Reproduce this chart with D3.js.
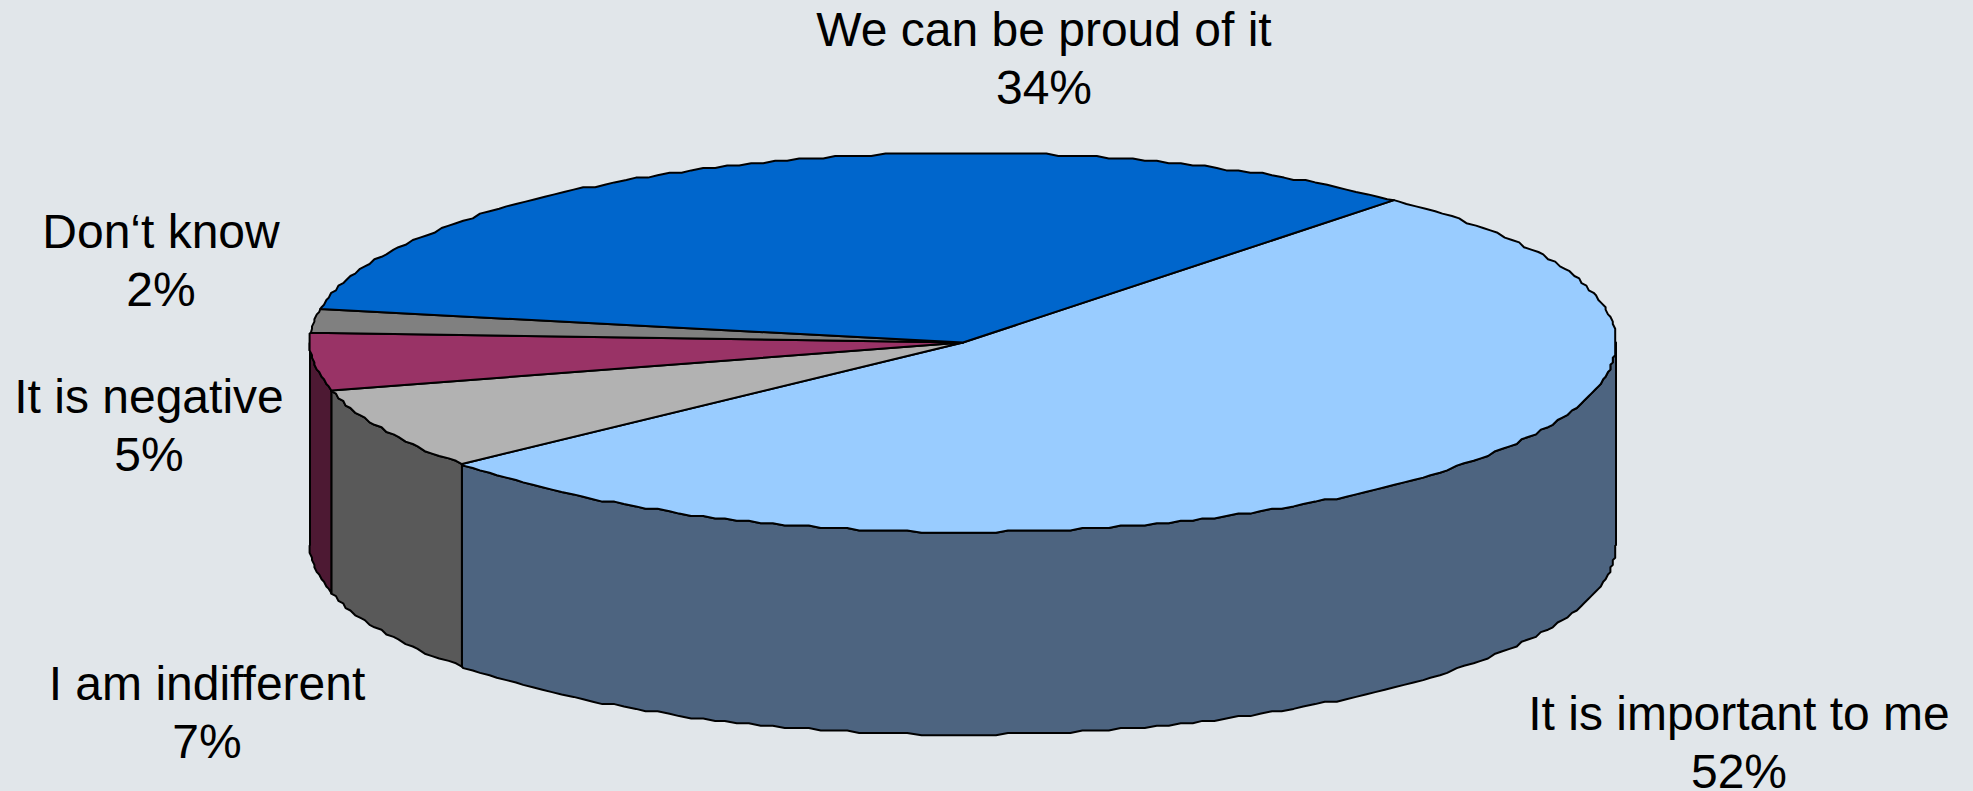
<!DOCTYPE html>
<html>
<head>
<meta charset="utf-8">
<script src="https://cdn.jsdelivr.net/npm/d3@7/dist/d3.min.js"></script>
<style>
html,body{margin:0;padding:0;background:#e1e6ea;overflow:hidden}
svg{display:block}
text{font-family:"Liberation Sans",Arial,sans-serif;fill:#000;text-anchor:middle}
</style>
</head>
<body>
<svg id="chart" width="1973" height="791"></svg>
<script>
const categories = ["It is important to me","I am indifferent","It is negative","Don\u2018t know","We can be proud of it"];
const shares = [52.45,7,4.9,2,33.65];
const topColors = ["#99ccff","#b2b2b2","#993366","#808080","#0066cc"];
const sideColors = ["#4d6480","#595959","#4d1933","#404040","#003366"];
const labelX = [1739,207,149,161,1044];
const labelY = [730,700,413,248,46];

const W=1973,H=791,cx=963,cy=342.5,rx=653,ry=189.5,depth=202.5;
const GRID=2.4;
const svg=d3.select("#chart");
const toRad=d=>d*Math.PI/180;
const START=41.3;
const slices=d3.pie().sort(null).startAngle(toRad(START)).endAngle(toRad(START+360)).value(d=>d)(shares);
const sx=d3.scaleLinear().domain([-1,1]).range([cx-rx,cx+rx]);
const sy=d3.scaleLinear().domain([-1,1]).range([cy-ry,cy+ry]);
const q=v=>Math.round(v/GRID)*GRID;
const rim=(a,dy=0)=>[q(sx(Math.sin(a))),q(sy(-Math.cos(a)))+dy];
const exact=(a,dy=0)=>[sx(Math.sin(a)),sy(-Math.cos(a))+dy];
const STEP=toRad(1.1);
function arcPts(a0,a1,dy=0){
  // interior samples sit on one shared angular grid, so neighbouring faces trace the same rim
  const out=[exact(a0,dy)];
  for(let k=Math.ceil(a0/STEP+1e-6);k*STEP<a1-1e-6;k++){out.push(rim(k*STEP,dy));}
  out.push(exact(a1,dy));
  return out;
}
const line=d3.line();
const gSide=svg.append("g"),gTop=svg.append("g"),gText=svg.append("g");
const LEFT=toRad(270),RIGHT=toRad(90);
slices.forEach((s,i)=>{
  const a0=Math.max(s.startAngle,RIGHT),a1=Math.min(s.endAngle,LEFT);
  if(a1<=a0)return;
  const pts=arcPts(a0,a1).concat(arcPts(a0,a1,depth).reverse());
  gSide.append("path").attr("d",line(pts)+"Z")
    .attr("fill",sideColors[i]).attr("stroke","#000").attr("stroke-width",2).attr("stroke-linejoin","round");
});
slices.forEach((s,i)=>{
  const pts=[[sx(0),sy(0)]].concat(arcPts(s.startAngle,s.endAngle));
  gTop.append("path").attr("d",line(pts)+"Z")
    .attr("fill",topColors[i]).attr("stroke","#000").attr("stroke-width",2).attr("stroke-linejoin","round");
});
const fs=48,lh=58;
categories.forEach((c,i)=>{
  const t=gText.append("text").attr("font-size",fs);
  t.append("tspan").attr("x",labelX[i]).attr("y",labelY[i]).text(c);
  t.append("tspan").attr("x",labelX[i]).attr("y",labelY[i]+lh).text(Math.round(shares[i])+"%");
});
</script>
</body>
</html>
